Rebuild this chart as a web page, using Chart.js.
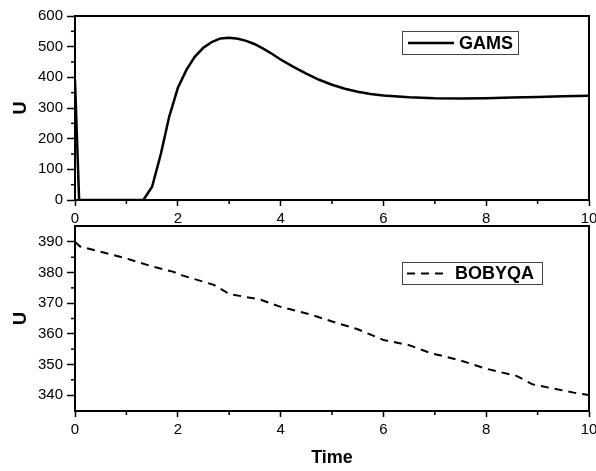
<!DOCTYPE html>
<html><head><meta charset="utf-8">
<script src="https://cdn.jsdelivr.net/npm/chart.js@4.4.1/dist/chart.umd.min.js"></script>
<style>
html,body{margin:0;padding:0;background:#fff;overflow:hidden;width:596px;height:471px;}
#wrap{position:relative;width:596px;height:471px;overflow:hidden;background:#fff;}
#c1{position:absolute;left:0;top:0;}
#c2{position:absolute;left:0;top:206px;}
</style></head><body>
<div id="wrap">
<canvas id="c1" width="620" height="240"></canvas>
<canvas id="c2" width="620" height="265"></canvas>
</div>
<script>
// ---- data ----
const gamsTime = [0, 0.08, 0.5, 1.0, 1.33, 1.5, 1.67, 1.83, 2.0, 2.17, 2.33, 2.5, 2.67, 2.83, 3.0, 3.17, 3.33, 3.5, 3.67, 3.83, 4.0, 4.25, 4.5, 4.75, 5.0, 5.25, 5.5, 5.75, 6.0, 6.5, 7.0, 7.5, 8.0, 8.5, 9.0, 9.5, 10];
const gamsU    = [390, 0, 0, 0, 0, 43, 150, 270, 365, 425, 467, 497, 516, 527, 529, 526, 519, 508, 493, 477, 458, 434, 412, 392, 376, 363, 353, 346, 341, 335, 332, 331, 332, 334, 336, 338, 340];
const bobyqaTime = [0, 0.1, 0.5, 1.0, 1.5, 1.9, 2.1, 2.7, 3.0, 3.6, 4.0, 4.6, 5.1, 5.5, 6.0, 6.5, 6.9, 7.5, 8.0, 8.6, 8.9, 9.7, 10];
const bobyqaU    = [390, 388.5, 386.8, 384.6, 382, 380.3, 379, 376, 373, 371.2, 368.8, 366.2, 363.5, 361.5, 358, 356.3, 353.8, 351.3, 348.6, 346.2, 343.5, 340.8, 340];
const xTicks = [0, 2, 4, 6, 8, 10];
const xMinorTicks = [1, 3, 5, 7, 9];
const gamsYTicks = [0, 100, 200, 300, 400, 500, 600];
const gamsYMinor = [50, 150, 250, 350, 450, 550];
const bobyqaYTicks = [340, 350, 360, 370, 380, 390];
const bobyqaYMinor = [345, 355, 365, 375, 385];
const seriesNames = ['GAMS', 'BOBYQA'];
const xTitle = 'Time';
const yTitle = 'U';

const FONT = "'Liberation Sans', Arial, sans-serif";

function decorPlugin(minorY, legend) {
  return {
    id: 'decor',
    afterDraw(chart) {
      const {ctx, chartArea: a, scales: {x, y}} = chart;
      ctx.save();
      ctx.strokeStyle = '#000';
      ctx.lineWidth = 2;
      ctx.beginPath();
      ctx.moveTo(a.left, a.top); ctx.lineTo(a.right, a.top); ctx.lineTo(a.right, a.bottom);
      ctx.stroke();
      ctx.lineWidth = 1.5;
      xMinorTicks.forEach(v => {
        const p = x.getPixelForValue(v);
        ctx.beginPath(); ctx.moveTo(p, a.bottom); ctx.lineTo(p, a.bottom + 4); ctx.stroke();
      });
      minorY.forEach(v => {
        const p = y.getPixelForValue(v);
        ctx.beginPath(); ctx.moveTo(a.left, p); ctx.lineTo(a.left - 4, p); ctx.stroke();
      });
      // legend
      const ds = chart.data.datasets[0];
      ctx.fillStyle = '#fff';
      ctx.fillRect(legend.x, legend.y, legend.w, legend.h);
      ctx.strokeStyle = '#444';
      ctx.lineWidth = 1;
      ctx.strokeRect(legend.x + 0.5, legend.y + 0.5, legend.w, legend.h);
      const cy = legend.y + legend.h / 2 + 0.5;
      ctx.strokeStyle = ds.borderColor;
      ctx.lineWidth = ds.borderWidth;
      ctx.setLineDash(ds.borderDash || []);
      ctx.beginPath();
      ctx.moveTo(legend.x + legend.lx, cy); ctx.lineTo(legend.x + legend.lx + legend.len, cy);
      ctx.stroke();
      ctx.setLineDash([]);
      ctx.fillStyle = '#000';
      ctx.font = 'bold 18px ' + FONT;
      ctx.textBaseline = 'middle';
      ctx.textAlign = 'left';
      ctx.fillText(ds.label, legend.x + legend.tx, cy + 1);
      ctx.restore();
    }
  };
}

function makeChart(id, times, values, name, dash, width, yMin, yMax, yTicks, yMinor, showXTitle, padTop, xHeight, legend) {
  return new Chart(document.getElementById(id), {
    type: 'line',
    data: {
      datasets: [{
        label: name,
        data: times.map((t, i) => ({x: t, y: values[i]})),
        borderColor: '#000',
        borderWidth: width,
        borderDash: dash,
        pointRadius: 0,
        tension: 0,
        fill: false
      }]
    },
    options: {
      responsive: false,
      animation: false,
      devicePixelRatio: 1,
      layout: {padding: {left: 0, right: 31, top: padTop, bottom: 0}},
      plugins: {legend: {display: false}, tooltip: {enabled: false}},
      scales: {
        x: {
          type: 'linear', min: 0, max: 10,
          afterBuildTicks: s => { s.ticks = xTicks.map(v => ({value: v})); },
          afterFit: s => { s.height = xHeight; },
          grid: {display: true, drawOnChartArea: false, drawTicks: true, tickLength: 6, tickWidth: 1.5, tickColor: '#000'},
          border: {display: true, color: '#000', width: 2},
          ticks: {color: '#000', font: {family: FONT, size: 15}, padding: 4, maxRotation: 0, autoSkip: false},
          title: {display: showXTitle, text: xTitle, color: '#000', font: {family: FONT, size: 18, weight: 'bold'}, padding: {top: 0, bottom: 2}}
        },
        y: {
          type: 'linear', min: yMin, max: yMax,
          afterBuildTicks: s => { s.ticks = yTicks.map(v => ({value: v})); },
          afterFit: s => { s.width = 75; },
          grid: {display: true, drawOnChartArea: false, drawTicks: true, tickLength: 8, tickWidth: 1.5, tickColor: '#000'},
          border: {display: true, color: '#000', width: 2},
          ticks: {color: '#000', font: {family: FONT, size: 15}, padding: 4},
          title: {display: true, text: yTitle, color: '#000', font: {family: FONT, size: 18, weight: 'bold'}, padding: {top: 10, bottom: 0}}
        }
      }
    },
    plugins: [decorPlugin(yMinor, legend)]
  });
}

makeChart('c1', gamsTime, gamsU, seriesNames[0], [], 2.5, 0, 600, gamsYTicks, gamsYMinor, false, 16, 40,
  {x: 402, y: 31, w: 116, h: 23, lx: 6, len: 46, tx: 57});
makeChart('c2', bobyqaTime, bobyqaU, seriesNames[1], [8, 6], 2, 334.8, 395.2, bobyqaYTicks, bobyqaYMinor, true, 20, 60,
  {x: 402, y: 56, w: 140, h: 22, lx: 5, len: 38, tx: 53});
</script>
</body></html>
